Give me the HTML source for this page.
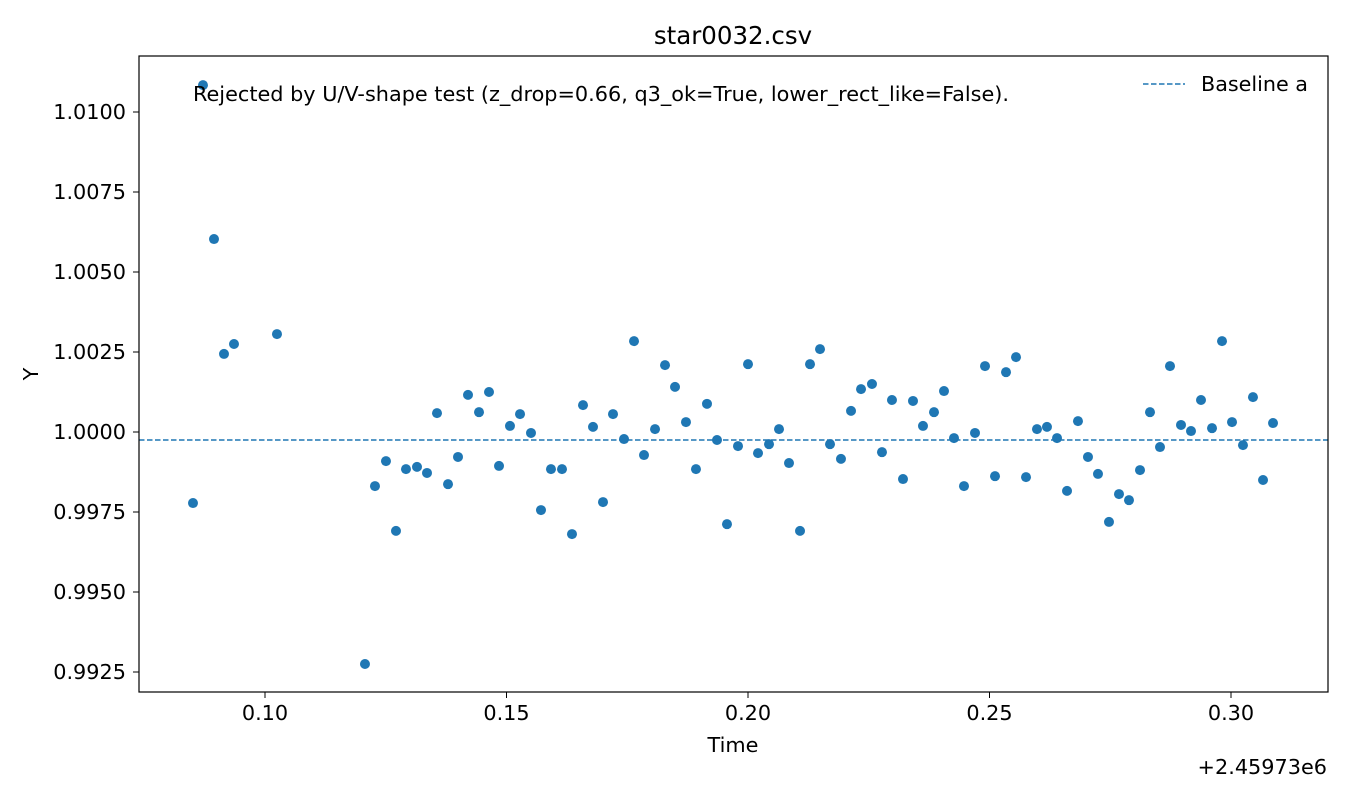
<!DOCTYPE html>
<html><head><meta charset="utf-8"><style>
body{margin:0;background:#fff}
svg text{font-family:"DejaVu Sans","Liberation Sans",sans-serif;fill:#000}
</style></head><body>
<svg id="chart" width="1350" height="780" xmlns="http://www.w3.org/2000/svg">
<rect x="0" y="0" width="1350" height="780" fill="#fff"/>
<text x="733" y="44" font-size="24.5" text-anchor="middle">star0032.csv</text>
<g id="marks"></g>
<g id="axes"></g>
<rect x="139" y="56" width="1189" height="636" fill="none" stroke="#000" stroke-width="1.2"/>
<text x="193" y="101" font-size="20.8">Rejected by U/V-shape test (z_drop=0.66, q3_ok=True, lower_rect_like=False).</text>
<g>
<line x1="1143" y1="84" x2="1185" y2="84" stroke="#1f77b4" stroke-width="1.5" stroke-dasharray="5.5,2.5"/>
<text x="1201" y="91" font-size="20.7">Baseline a</text>
</g>
<text x="733" y="752" font-size="20.8" text-anchor="middle">Time</text>
<text x="1327" y="774" font-size="20.8" text-anchor="end">+2.45973e6</text>
<text x="38" y="374" font-size="20.8" text-anchor="middle" transform="rotate(-90 38 374)">Y</text>
</svg>
<script>
const xTicks=[0.10,0.15,0.20,0.25,0.30];
const xTickLabels=["0.10","0.15","0.20","0.25","0.30"];
const yTicks=[0.9925,0.9950,0.9975,1.0000,1.0025,1.0050,1.0075,1.0100];
const yTickLabels=["0.9925","0.9950","0.9975","1.0000","1.0025","1.0050","1.0075","1.0100"];
const baselineA=0.99975;
const timeVals=[0.08509,0.08716,0.08944,0.09151,0.09358,0.10248,0.12070,
0.12277,0.12505,0.12712,0.12919,0.13147,0.13354,0.13561,0.13789,0.13996,0.14203,0.14431,0.14638,0.14845,0.15072,0.15280,0.15507,0.15714,0.15921,0.16149,0.16356,0.16584,0.16791,0.16998,0.17205,0.17433,0.17640,0.17847,0.18075,0.18282,0.18489,0.18716,0.18923,0.19151,0.19358,0.19565,0.19793,0.20000,0.20207,0.20435,0.20642,0.20849,0.21077,0.21284,0.21491,0.21698,0.21925,0.22133,0.22340,0.22567,0.22774,0.22981,0.23209,0.23416,0.23623,0.23851,0.24058,0.24265,0.24472,0.24700,0.24907,0.25114,0.25342,0.25549,0.25756,0.25983,0.26190,0.26398,0.26605,0.26832,0.27039,0.27246,0.27474,0.27681,0.27888,0.28116,0.28323,0.28530,0.28737,0.28965,0.29172,0.29379,0.29607,0.29814,0.30021,0.30248,0.30455,0.30663,0.30870];
const yVals=[0.99778,1.01084,1.00603,1.00244,1.00275,1.00306,0.99275,
0.99831,0.99909,0.99691,0.99884,0.99891,0.99872,1.00059,0.99837,0.99922,1.00116,1.00062,1.00125,0.99894,1.00019,1.00056,0.99997,0.99756,0.99884,0.99884,0.99681,1.00084,1.00016,0.99781,1.00056,0.99978,1.00284,0.99928,1.00009,1.00209,1.00141,1.00031,0.99884,1.00088,0.99975,0.99712,0.99956,1.00212,0.99934,0.99962,1.00009,0.99903,0.99691,1.00212,1.00259,0.99962,0.99916,1.00066,1.00134,1.00150,0.99937,1.00100,0.99853,1.00097,1.00019,1.00062,1.00128,0.99981,0.99831,0.99997,1.00206,0.99862,1.00187,1.00234,0.99859,1.00009,1.00016,0.99981,0.99816,1.00034,0.99922,0.99869,0.99719,0.99806,0.99787,0.99881,1.00062,0.99953,1.00206,1.00022,1.00003,1.00100,1.00012,1.00284,1.00031,0.99959,1.00109,0.99850,1.00028];
const NS="http://www.w3.org/2000/svg";
const X0=139,X1=1328,Y0=56,Y1=692;
function xs(v){return 265+(v-0.10)*4830;}
function ys(v){return 112+(1.0100-v)*32000;}
const marks=document.getElementById('marks');
const axes=document.getElementById('axes');
for(let i=0;i<timeVals.length;i++){
  const c=document.createElementNS(NS,'circle');
  c.setAttribute('cx',xs(timeVals[i]));c.setAttribute('cy',ys(yVals[i]));
  c.setAttribute('r',5);c.setAttribute('fill','#1f77b4');
  
  
  marks.appendChild(c);
}
const bl=document.createElementNS(NS,'line');
bl.setAttribute('x1',X0);bl.setAttribute('x2',X1);
bl.setAttribute('y1',ys(baselineA));bl.setAttribute('y2',ys(baselineA));
bl.setAttribute('stroke','#1f77b4');bl.setAttribute('stroke-width','1.5');bl.setAttribute('stroke-dasharray','5.5,2.5');


marks.appendChild(bl);
xTicks.forEach((t,i)=>{
  const x=xs(t);
  const l=document.createElementNS(NS,'line');
  l.setAttribute('x1',x);l.setAttribute('x2',x);l.setAttribute('y1',Y1);l.setAttribute('y2',Y1+6);l.setAttribute('stroke','#000');
  
  
  axes.appendChild(l);
  const tx=document.createElementNS(NS,'text');
  tx.setAttribute('x',x);tx.setAttribute('y',Y1+28);tx.setAttribute('font-size','20.8');tx.setAttribute('text-anchor','middle');
  tx.textContent=xTickLabels[i];
  
  
  axes.appendChild(tx);
});
yTicks.forEach((t,i)=>{
  const y=ys(t);
  const l=document.createElementNS(NS,'line');
  l.setAttribute('x1',X0-6);l.setAttribute('x2',X0);l.setAttribute('y1',y);l.setAttribute('y2',y);l.setAttribute('stroke','#000');
  
  
  axes.appendChild(l);
  const tx=document.createElementNS(NS,'text');
  tx.setAttribute('x',X0-13);tx.setAttribute('y',y+7);tx.setAttribute('font-size','20.8');tx.setAttribute('text-anchor','end');
  tx.textContent=yTickLabels[i];
  
  
  axes.appendChild(tx);
});
</script>
</body></html>
